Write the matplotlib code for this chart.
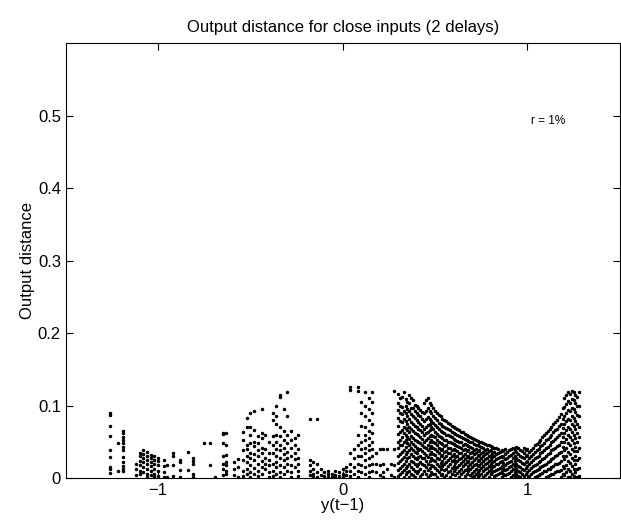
# distancia de salida para entradas cercanas (2 retardos), valores leidos a ojo de la figura
import numpy as np
import matplotlib.pyplot as plt

plt.rcParams['font.family'] = ['Liberation Sans', 'DejaVu Sans']

# cada columna: posicion en y(t-1) y las distancias que aparecen encima
col_x_left = [-1.26, -1.22, -1.19, -1.12, -1.10, -1.08, -1.06, -1.04, -1.02, -1.00,
              -0.97, -0.95, -0.92, -0.88, -0.84, -0.81, -0.75, -0.72, -0.69, -0.65, -0.63]
col_y_left = [
    [0.089, 0.087, 0.072, 0.058, 0.038, 0.029, 0.015, 0.012, 0.007],
    [0.048, 0.010],
    [0.065, 0.062, 0.057, 0.052, 0.048, 0.043, 0.038, 0.029, 0.022, 0.016, 0.013, 0.009],
    [0.020, 0.013, 0.004],
    [0.035, 0.030, 0.024, 0.018, 0.010, 0.005],
    [0.038, 0.033, 0.027, 0.022, 0.015, 0.008],
    [0.036, 0.031, 0.025, 0.019, 0.013, 0.006, 0.002],
    [0.032, 0.028, 0.022, 0.016, 0.010, 0.004],
    [0.030, 0.025, 0.020, 0.012, 0.006, 0.001],
    [0.027, 0.024, 0.018, 0.010, 0.003],
    [0.025, 0.016, 0.008, 0.001],
    [0.018, 0.002],
    [0.034, 0.030, 0.018, 0.003],
    [0.025, 0.022, 0.011, 0.001],
    [0.036, 0.011],
    [0.027, 0.024, 0.020, 0.005, 0.002],
    [0.048],
    [0.048, 0.018],
    [0.001],
    [0.062, 0.061, 0.048, 0.030, 0.020, 0.012, 0.004],
    [0.062, 0.045, 0.032, 0.022, 0.018, 0.010, 0.005],
]

col_x_mid = [-0.59, -0.57, -0.54, -0.52, -0.50, -0.48, -0.46, -0.44, -0.42, -0.40,
             -0.38, -0.36, -0.34, -0.32, -0.30, -0.28, -0.26, -0.24, -0.18, -0.16,
             -0.14, -0.12]
col_y_mid = [
    [0.022, 0.012, 0.004],
    [0.026, 0.015, 0.002],
    [0.063, 0.052, 0.038, 0.025, 0.010, 0.003],
    [0.083, 0.071, 0.046, 0.040, 0.030, 0.022, 0.012, 0.005],
    [0.090, 0.070, 0.060, 0.048, 0.035, 0.028, 0.018, 0.008, 0.002],
    [0.092, 0.066, 0.050, 0.044, 0.033, 0.025, 0.014, 0.006],
    [0.058, 0.048, 0.038, 0.030, 0.020, 0.010, 0.003],
    [0.095, 0.062, 0.055, 0.042, 0.034, 0.024, 0.015, 0.005],
    [0.060, 0.040, 0.028, 0.020, 0.012],
    [0.050, 0.035, 0.025, 0.018, 0.008, 0.002],
    [0.090, 0.080, 0.058, 0.045, 0.035, 0.020, 0.010, 0.003],
    [0.100, 0.085, 0.075, 0.060, 0.050, 0.040, 0.030, 0.022, 0.015, 0.006],
    [0.115, 0.112, 0.070, 0.058, 0.045, 0.038, 0.028, 0.018, 0.008, 0.001],
    [0.095, 0.065, 0.052, 0.042, 0.033, 0.025, 0.015, 0.005],
    [0.119, 0.085, 0.060, 0.048, 0.036, 0.028, 0.020, 0.010],
    [0.065, 0.052, 0.042, 0.030, 0.018, 0.008, 0.002],
    [0.055, 0.045, 0.035, 0.026, 0.015],
    [0.060, 0.040, 0.028, 0.020, 0.010, 0.003],
    [0.082, 0.025, 0.018, 0.010, 0.004],
    [0.022, 0.012, 0.005, 0.001],
    [0.082, 0.020, 0.008, 0.002],
    [0.012, 0.004],
]

col_x_zero = [-0.10, -0.08, -0.06, -0.04, -0.02, 0.00, 0.02, 0.04, 0.06, 0.08,
              0.10, 0.12, 0.14, 0.16, 0.18, 0.20, 0.22, 0.24, 0.26, 0.28]
col_y_zero = [
    [0.008, 0.003],
    [0.010, 0.005, 0.002],
    [0.006, 0.002],
    [0.010, 0.004, 0.001],
    [0.008, 0.003],
    [0.012, 0.006, 0.002],
    [0.015, 0.010, 0.004],
    [0.125, 0.122, 0.035, 0.020, 0.010, 0.003],
    [0.040, 0.028, 0.015, 0.006],
    [0.125, 0.120, 0.060, 0.045, 0.030, 0.020, 0.010, 0.002],
    [0.105, 0.090, 0.072, 0.050, 0.040, 0.030, 0.018, 0.008],
    [0.118, 0.100, 0.085, 0.070, 0.060, 0.052, 0.042, 0.035, 0.025, 0.015, 0.005],
    [0.110, 0.095, 0.080, 0.065, 0.055, 0.045, 0.038, 0.028, 0.018, 0.008, 0.002],
    [0.118, 0.105, 0.090, 0.075, 0.062, 0.050, 0.040, 0.030, 0.020, 0.010],
    [0.035, 0.020, 0.008],
    [0.040, 0.018, 0.004],
    [0.040, 0.020, 0.008, 0.001],
    [0.040, 0.012],
    [0.020, 0.004],
    [0.120, 0.040, 0.018, 0.002],
]

col_x_right = [0.30, 0.32, 0.34, 0.36, 0.38, 0.40, 0.42, 0.44, 0.46, 0.48,
               0.50, 0.52, 0.54, 0.56, 0.58, 0.60, 0.62, 0.64, 0.66, 0.68,
               0.70, 0.72, 0.74, 0.76, 0.78, 0.80, 0.82, 0.84, 0.86, 0.88,
               0.90, 0.92, 0.94, 0.96, 0.98, 1.00, 1.02, 1.04, 1.06, 1.08,
               1.10, 1.12, 1.14, 1.16, 1.18, 1.20, 1.22, 1.24, 1.26, 1.28]
col_y_right = [
    [0.116, 0.104, 0.094, 0.083, 0.072, 0.061, 0.050, 0.041, 0.030, 0.021, 0.011, 0.003],
    [0.112, 0.098, 0.088, 0.077, 0.066, 0.057, 0.046, 0.036, 0.026, 0.017, 0.008],
    [0.109, 0.100, 0.090, 0.079, 0.069, 0.060, 0.052, 0.043, 0.033, 0.024, 0.014, 0.005],
    [0.114, 0.103, 0.092, 0.081, 0.071, 0.063, 0.054, 0.045, 0.038, 0.029, 0.019, 0.010, 0.002],
    [0.107, 0.096, 0.086, 0.075, 0.065, 0.055, 0.047, 0.039, 0.031, 0.022, 0.013, 0.004],
    [0.100, 0.090, 0.080, 0.070, 0.061, 0.051, 0.042, 0.034, 0.026, 0.016, 0.007],
    [0.094, 0.085, 0.074, 0.066, 0.057, 0.048, 0.040, 0.031, 0.022, 0.012, 0.003],
    [0.103, 0.089, 0.078, 0.068, 0.059, 0.050, 0.043, 0.035, 0.027, 0.018, 0.009],
    [0.110, 0.096, 0.084, 0.073, 0.064, 0.055, 0.046, 0.038, 0.029, 0.020, 0.011, 0.002],
    [0.101, 0.090, 0.079, 0.070, 0.060, 0.052, 0.044, 0.036, 0.027, 0.018, 0.008],
    [0.093, 0.083, 0.073, 0.064, 0.056, 0.048, 0.040, 0.032, 0.023, 0.014, 0.005],
    [0.087, 0.076, 0.067, 0.058, 0.050, 0.042, 0.034, 0.026, 0.017, 0.008],
    [0.082, 0.072, 0.063, 0.055, 0.047, 0.040, 0.032, 0.024, 0.016, 0.006],
    [0.078, 0.069, 0.060, 0.052, 0.045, 0.037, 0.030, 0.022, 0.013, 0.004],
    [0.074, 0.066, 0.058, 0.050, 0.042, 0.035, 0.027, 0.019, 0.010, 0.002],
    [0.070, 0.062, 0.054, 0.047, 0.040, 0.033, 0.025, 0.017, 0.009],
    [0.067, 0.059, 0.051, 0.044, 0.037, 0.030, 0.023, 0.015, 0.007],
    [0.064, 0.057, 0.049, 0.042, 0.035, 0.028, 0.021, 0.013, 0.005],
    [0.061, 0.054, 0.047, 0.040, 0.033, 0.026, 0.019, 0.011, 0.003],
    [0.058, 0.051, 0.044, 0.038, 0.031, 0.024, 0.017, 0.009],
    [0.055, 0.049, 0.042, 0.036, 0.029, 0.022, 0.015, 0.007, 0.001],
    [0.052, 0.046, 0.040, 0.034, 0.027, 0.020, 0.013, 0.005],
    [0.050, 0.044, 0.038, 0.032, 0.025, 0.018, 0.011, 0.004],
    [0.048, 0.042, 0.036, 0.030, 0.023, 0.016, 0.009, 0.002],
    [0.046, 0.040, 0.034, 0.028, 0.021, 0.014, 0.007],
    [0.044, 0.038, 0.032, 0.026, 0.019, 0.012, 0.005],
    [0.042, 0.036, 0.030, 0.024, 0.017, 0.010, 0.003],
    [0.040, 0.034, 0.027, 0.020, 0.013, 0.006],
    [0.039, 0.031, 0.024, 0.017, 0.009, 0.002],
    [0.040, 0.033, 0.026, 0.018, 0.011, 0.004],
    [0.038, 0.030, 0.022, 0.015, 0.007],
    [0.041, 0.034, 0.027, 0.019, 0.012, 0.004],
    [0.043, 0.036, 0.028, 0.020, 0.013, 0.005],
    [0.039, 0.031, 0.023, 0.015, 0.008, 0.001],
    [0.042, 0.035, 0.027, 0.019, 0.011, 0.003],
    [0.040, 0.032, 0.024, 0.016, 0.008],
    [0.038, 0.030, 0.022, 0.014, 0.006],
    [0.045, 0.036, 0.027, 0.018, 0.010, 0.002],
    [0.050, 0.040, 0.031, 0.022, 0.013, 0.004],
    [0.056, 0.046, 0.036, 0.026, 0.016, 0.007],
    [0.062, 0.052, 0.041, 0.030, 0.020, 0.010, 0.001],
    [0.068, 0.057, 0.046, 0.035, 0.024, 0.013, 0.004],
    [0.075, 0.063, 0.051, 0.040, 0.028, 0.017, 0.006],
    [0.080, 0.068, 0.056, 0.044, 0.032, 0.020, 0.009],
    [0.088, 0.075, 0.062, 0.049, 0.036, 0.023, 0.011, 0.002],
    [0.110, 0.098, 0.086, 0.074, 0.062, 0.050, 0.038, 0.026, 0.014, 0.004],
    [0.118, 0.106, 0.094, 0.082, 0.071, 0.060, 0.048, 0.036, 0.024, 0.012, 0.002],
    [0.120, 0.109, 0.097, 0.086, 0.075, 0.064, 0.052, 0.040, 0.028, 0.016, 0.006],
    [0.115, 0.103, 0.091, 0.079, 0.067, 0.055, 0.043, 0.031, 0.019, 0.008],
    [0.119, 0.100, 0.085, 0.070, 0.056, 0.042, 0.028, 0.014, 0.003],
]

# columnas intermedias de la zona densa
col_x_dense = [0.31, 0.33, 0.35, 0.37, 0.39, 0.41, 0.43, 0.45, 0.47, 0.49,
               0.51, 0.53, 0.55, 0.57, 0.59, 0.61, 0.63, 0.65, 0.67, 0.69,
               0.71, 0.73, 0.75, 0.77, 0.79, 0.81, 0.83, 0.85, 0.87, 0.89,
               0.91, 0.93, 0.95, 0.97, 0.99, 1.01, 1.03, 1.05, 1.07, 1.09,
               1.11, 1.13, 1.15, 1.17, 1.19, 1.21, 1.23, 1.25, 1.27]
col_y_dense = [
    [0.110, 0.099, 0.089, 0.078, 0.064, 0.053, 0.045, 0.033, 0.024, 0.014, 0.006],
    [0.118, 0.093, 0.081, 0.071, 0.062, 0.049, 0.039, 0.029, 0.020, 0.011, 0.001],
    [0.105, 0.095, 0.085, 0.074, 0.066, 0.056, 0.048, 0.036, 0.027, 0.016, 0.008],
    [0.110, 0.097, 0.088, 0.077, 0.068, 0.058, 0.050, 0.041, 0.033, 0.024, 0.015, 0.006],
    [0.101, 0.092, 0.083, 0.072, 0.062, 0.053, 0.044, 0.036, 0.028, 0.019, 0.010, 0.001],
    [0.097, 0.087, 0.077, 0.068, 0.059, 0.049, 0.038, 0.029, 0.019, 0.009],
    [0.091, 0.081, 0.072, 0.063, 0.054, 0.046, 0.037, 0.028, 0.019, 0.006],
    [0.107, 0.093, 0.081, 0.071, 0.062, 0.053, 0.041, 0.032, 0.024, 0.015, 0.005],
    [0.104, 0.093, 0.082, 0.075, 0.066, 0.058, 0.049, 0.041, 0.033, 0.023, 0.014, 0.004],
    [0.096, 0.086, 0.076, 0.067, 0.058, 0.049, 0.041, 0.033, 0.025, 0.016, 0.006],
    [0.089, 0.080, 0.070, 0.061, 0.053, 0.045, 0.037, 0.028, 0.020, 0.011, 0.002],
    [0.085, 0.074, 0.065, 0.057, 0.048, 0.039, 0.030, 0.021, 0.012, 0.004],
    [0.080, 0.070, 0.062, 0.053, 0.044, 0.036, 0.028, 0.020, 0.011, 0.002],
    [0.076, 0.067, 0.059, 0.050, 0.041, 0.034, 0.025, 0.016, 0.008],
    [0.072, 0.064, 0.056, 0.048, 0.039, 0.031, 0.023, 0.014, 0.006],
    [0.069, 0.061, 0.052, 0.045, 0.038, 0.029, 0.021, 0.012, 0.004],
    [0.066, 0.058, 0.050, 0.043, 0.034, 0.026, 0.018, 0.010, 0.002],
    [0.063, 0.055, 0.046, 0.039, 0.031, 0.024, 0.016, 0.008],
    [0.060, 0.052, 0.045, 0.037, 0.029, 0.022, 0.013, 0.006],
    [0.057, 0.050, 0.043, 0.035, 0.027, 0.020, 0.012, 0.004],
    [0.054, 0.047, 0.039, 0.033, 0.025, 0.018, 0.010, 0.003],
    [0.051, 0.045, 0.037, 0.030, 0.023, 0.016, 0.008, 0.001],
    [0.049, 0.043, 0.035, 0.028, 0.021, 0.014, 0.006],
    [0.047, 0.039, 0.033, 0.026, 0.019, 0.012, 0.004],
    [0.045, 0.037, 0.030, 0.024, 0.017, 0.010, 0.002],
    [0.043, 0.035, 0.029, 0.022, 0.015, 0.008],
    [0.041, 0.033, 0.026, 0.019, 0.011, 0.004],
    [0.036, 0.029, 0.022, 0.014, 0.007],
    [0.037, 0.029, 0.021, 0.014, 0.006],
    [0.036, 0.028, 0.021, 0.013, 0.006],
    [0.040, 0.032, 0.024, 0.017, 0.009, 0.002],
    [0.038, 0.031, 0.023, 0.016, 0.008, 0.001],
    [0.041, 0.033, 0.025, 0.017, 0.010, 0.003],
    [0.037, 0.029, 0.021, 0.013, 0.005],
    [0.039, 0.030, 0.022, 0.014, 0.006],
    [0.036, 0.027, 0.019, 0.011, 0.003],
    [0.041, 0.033, 0.025, 0.016, 0.008],
    [0.047, 0.038, 0.029, 0.020, 0.011, 0.003],
    [0.053, 0.044, 0.034, 0.024, 0.015, 0.006],
    [0.059, 0.048, 0.038, 0.028, 0.018, 0.009],
    [0.065, 0.054, 0.043, 0.033, 0.022, 0.012, 0.003],
    [0.071, 0.060, 0.049, 0.038, 0.026, 0.015, 0.005],
    [0.077, 0.066, 0.054, 0.042, 0.030, 0.019, 0.008],
    [0.084, 0.072, 0.059, 0.046, 0.034, 0.021, 0.010],
    [0.096, 0.082, 0.069, 0.056, 0.043, 0.030, 0.017, 0.006],
    [0.114, 0.102, 0.090, 0.078, 0.066, 0.054, 0.042, 0.030, 0.018, 0.008],
    [0.116, 0.104, 0.092, 0.080, 0.068, 0.057, 0.045, 0.033, 0.021, 0.010, 0.001],
    [0.118, 0.107, 0.095, 0.083, 0.072, 0.060, 0.048, 0.037, 0.025, 0.013, 0.003],
    [0.112, 0.099, 0.087, 0.075, 0.062, 0.050, 0.037, 0.025, 0.012, 0.002],
]

cols_x = col_x_left + col_x_mid + col_x_zero + col_x_right + col_x_dense
cols_y = col_y_left + col_y_mid + col_y_zero + col_y_right + col_y_dense

x = []
y = []
for cx, ys in zip(cols_x, cols_y):
    for v in ys:
        x.append(cx)
        y.append(v)

fig = plt.figure(figsize=(6.21, 5.25), dpi=100)
ax = fig.add_axes([0.106, 0.0895, 0.892, 0.8285])

ax.plot(x, y, '.', color='k', markersize=3)

ax.set_xlim(-1.5, 1.5)
ax.set_ylim(0, 0.6)
ax.set_xticks([-1, 0, 1])
ax.set_xticklabels(['\u22121', '0', '1'])
ax.set_yticks([0, 0.1, 0.2, 0.3, 0.4, 0.5])
ax.set_yticklabels(['0', '0.1', '0.2', '0.3', '0.4', '0.5'])
ax.tick_params(direction='in', top=True, right=True, length=5, labelsize=12)

ax.set_xlabel('y(t\u22121)', fontsize=12, labelpad=0)
ax.set_ylabel('Output distance', fontsize=12, labelpad=2)
ax.set_title('Output distance for close inputs (2 delays)', fontsize=12, pad=8)
ax.text(1.02, 0.493, 'r = 1%', fontsize=8.5, va='center')

fig.savefig('out.png', dpi=100)
